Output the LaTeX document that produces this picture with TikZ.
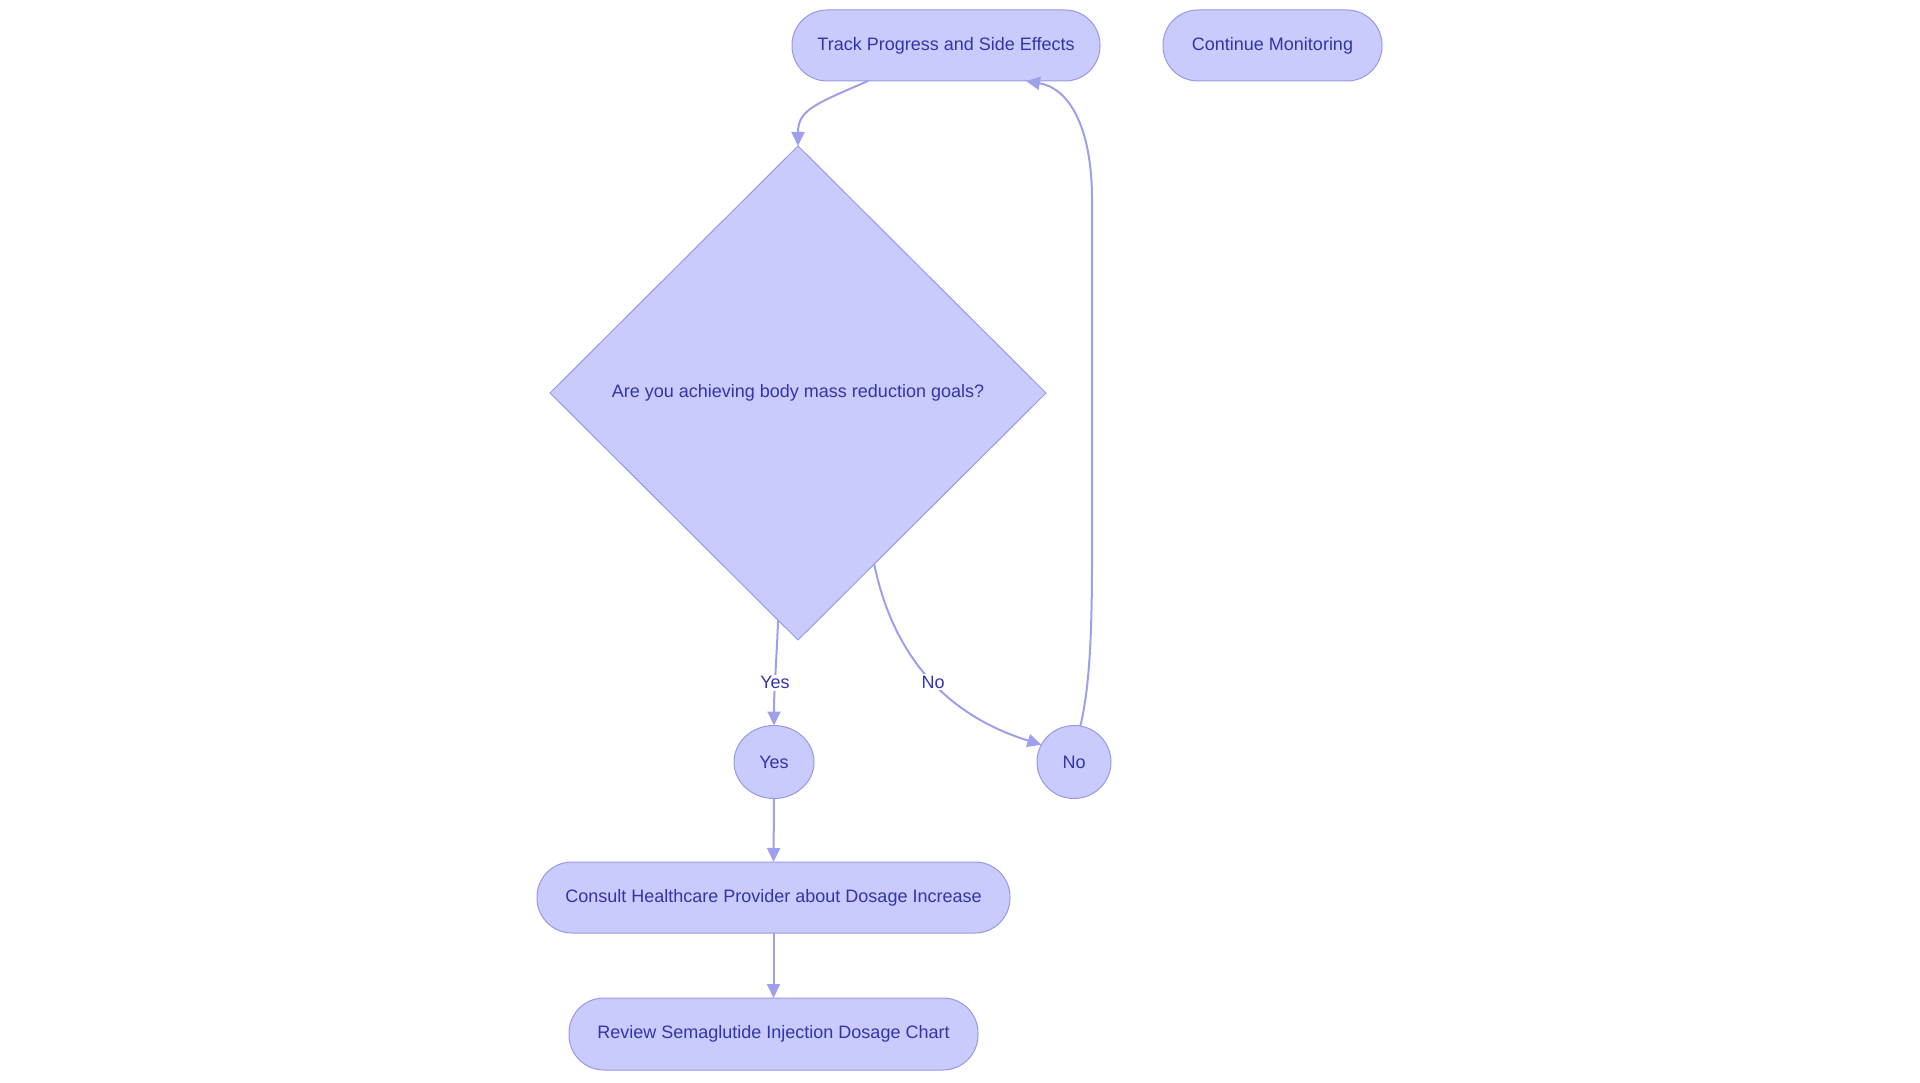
\documentclass[tikz,border=0pt]{standalone}
\usepackage{fontspec}
\setmainfont{Liberation Sans}
\usetikzlibrary{shapes.geometric,arrows.meta}
\definecolor{nodefill}{RGB}{201,203,252}
\definecolor{nodeline}{RGB}{150,153,232}
\definecolor{edgecol}{RGB}{158,160,236}
\definecolor{txtcol}{RGB}{52,52,170}
\tikzset{
  base/.style={draw=nodeline, fill=nodefill, line width=1pt, text=txtcol, inner sep=0pt, outer sep=0pt,
    font=\fontsize{18}{22}\selectfont},
  pill/.style={base, rectangle, rounded corners=35pt, minimum height=71pt},
  decbox/.style={base, diamond, aspect=1},
  roundnode/.style={base, ellipse},
  edge/.style={draw=edgecol, line width=2pt, -{Triangle[length=14pt,width=13pt]}},
  lbl/.style={fill=white, text=txtcol, inner sep=1.5pt, font=\fontsize{18}{22}\selectfont}
}
\begin{document}
\begin{tikzpicture}[x=1pt,y=-1pt]
\useasboundingbox (0,0) rectangle (1920,1083);
\node[pill, minimum width=308pt] (track) at (946,45.5) {Track Progress and Side Effects};
\node[pill, minimum width=219pt] (cont) at (1272.5,45.5) {Continue Monitoring};
\node[decbox, minimum width=496pt, minimum height=494pt] (dec) at (798,393) {Are you achieving body mass reduction goals?};
\node[roundnode, minimum width=80pt, minimum height=73pt] (yes) at (774,762) {Yes};
\node[roundnode, minimum width=74pt, minimum height=73pt] (no) at (1074,762) {No};
\node[pill, minimum width=473pt] (consult) at (773.5,897.5) {Consult Healthcare Provider about Dosage Increase};
\node[pill, minimum width=409pt, minimum height=72pt] (review) at (773.5,1034) {Review Semaglutide Injection Dosage Chart};

\draw[edge] ([xshift=-78pt]track.south) .. controls (815,104) and (798,110) .. (dec.north);
\draw[edge] (no.80) .. controls (1089,690) and (1092,640) .. (1092,560) -- (1092,200)
  .. controls (1092,125) and (1068,88) .. ([xshift=80pt]track.south);
\draw[edge] (dec.265.5) .. controls (776,670) and (774,690) .. node[lbl, pos=0.55] {Yes} (yes.north);
\draw[edge] (dec.294.1) .. controls (895,665) and (955,718) .. node[lbl, pos=0.5] {No} (no.152);
\draw[edge] (yes.south) -- (consult.north);
\draw[edge] (consult.south) -- (review.north);
\end{tikzpicture}
\end{document}
